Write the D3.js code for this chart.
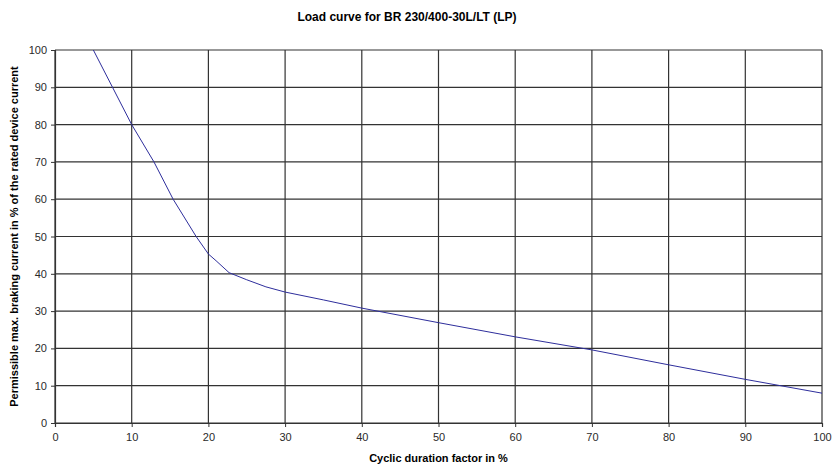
<!DOCTYPE html>
<head>
  <meta charset="utf-8">
  <style>
    body { margin: 0; background: #fff; font-family: "Liberation Sans", Arial, sans-serif; }
    .tick text { font-size: 11px; fill: #2a2a2a; }
  </style>
</head>
<body>
<script src="https://cdnjs.cloudflare.com/ajax/libs/d3/7.8.5/d3.min.js"></script>
<script>

var dutyFactor = [5, 10, 12.9, 15.4, 18.4, 20, 21, 22.7, 25, 27.5, 30, 35, 40, 50, 60, 70, 80, 90, 100];
var brakingCurrent = [100, 80, 70, 60, 50, 45.3, 43.5, 40.3, 38.4, 36.5, 35.1, 33, 30.8, 26.9, 23.1, 19.6, 15.6, 11.7, 8];
var xTicks = [0, 10, 20, 30, 40, 50, 60, 70, 80, 90, 100];
var yTicks = [0, 10, 20, 30, 40, 50, 60, 70, 80, 90, 100];

var margin = { top: 50, right: 11, bottom: 42, left: 55 };
var width = 833 - margin.left - margin.right;
var height = 465 - margin.top - margin.bottom;

var svg = d3.select("body").append("svg")
    .attr("width", 833)
    .attr("height", 465);

var g = svg.append("g")
    .attr("transform", "translate(" + margin.left + "," + margin.top + ")");

var x = d3.scaleLinear().domain([0, 100]).range([0, width]);
var y = d3.scaleLinear().domain([0, 100]).range([height, 0]);

// grid
g.append("g").selectAll("line.v")
  .data(xTicks)
  .enter().append("line")
    .attr("x1", function(d) { return x(d); })
    .attr("x2", function(d) { return x(d); })
    .attr("y1", 0)
    .attr("y2", height)
    .attr("stroke", "#333")
    .attr("stroke-width", 1.2);

g.append("g").selectAll("line.h")
  .data(yTicks)
  .enter().append("line")
    .attr("x1", 0)
    .attr("x2", width)
    .attr("y1", function(d) { return y(d); })
    .attr("y2", function(d) { return y(d); })
    .attr("stroke", "#333")
    .attr("stroke-width", 1.2);

var xAxis = g.append("g")
    .attr("transform", "translate(0," + height + ")")
    .call(d3.axisBottom(x).tickValues(xTicks).tickSize(4).tickPadding(6));

var yAxis = g.append("g")
    .call(d3.axisLeft(y).tickValues(yTicks).tickSize(4).tickPadding(4));

[xAxis, yAxis].forEach(function(a) {
  a.select(".domain").attr("stroke", "#333").attr("stroke-width", 1.2);
  a.selectAll(".tick line").attr("stroke", "#333");
  a.selectAll("text").style("font-family", "'Liberation Sans', Arial, sans-serif");
});

// curve
var pts = dutyFactor.map(function(d, i) { return [d, brakingCurrent[i]]; });

g.append("path")
    .datum(pts)
    .attr("fill", "none")
    .attr("stroke", "#2e2e9c")
    .attr("stroke-width", 1)
    .attr("d", d3.line()
        .x(function(d) { return x(d[0]); })
        .y(function(d) { return y(d[1]); }));

svg.append("text")
    .attr("x", 407)
    .attr("y", 21)
    .attr("text-anchor", "middle")
    .style("font-size", "12px")
    .style("font-weight", "bold")
    .text("Load curve for BR 230/400-30L/LT (LP)");

svg.append("text")
    .attr("x", margin.left + width / 2)
    .attr("y", 462)
    .attr("text-anchor", "middle")
    .style("font-size", "11px")
    .style("font-weight", "bold")
    .text("Cyclic duration factor in %");

svg.append("text")
    .attr("transform", "translate(18," + (margin.top + height / 2) + ") rotate(-90)")
    .attr("text-anchor", "middle")
    .style("font-size", "11px")
    .style("font-weight", "bold")
    .text("Permissible max. braking current in % of the rated device current");

</script>
</body>
